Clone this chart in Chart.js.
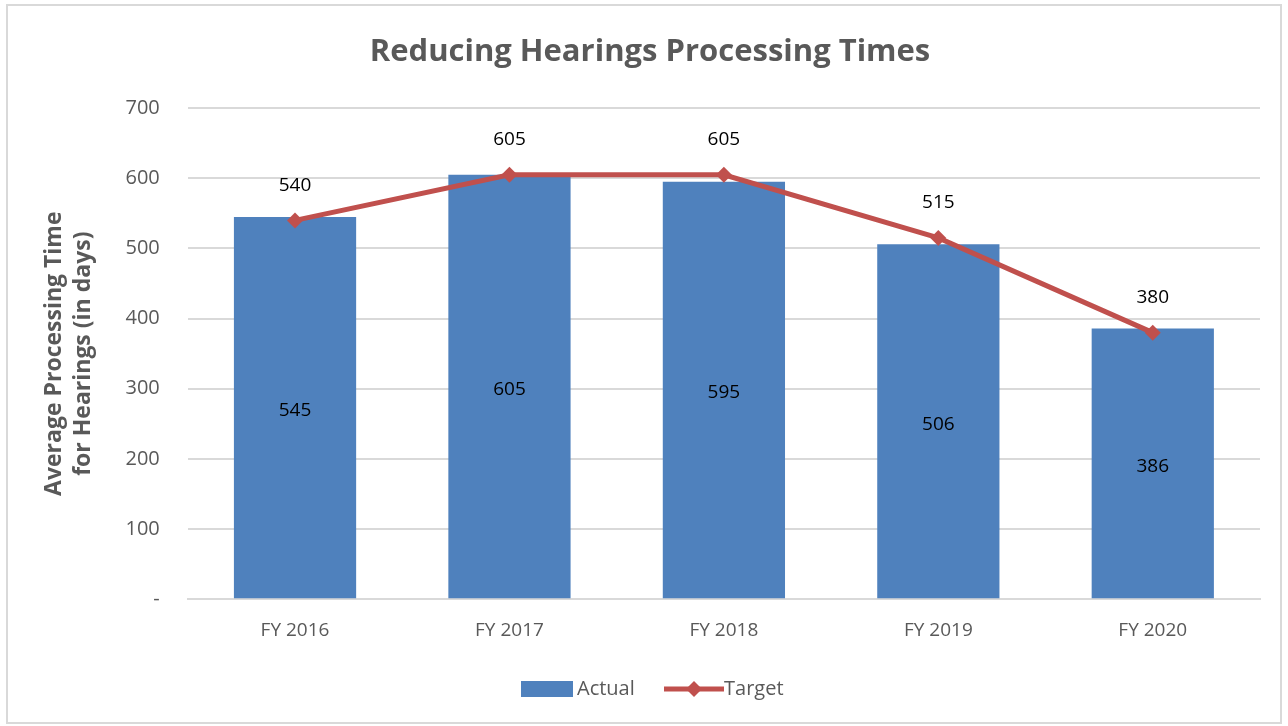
<!DOCTYPE html>
<html lang="en">
<head>
    <meta charset="UTF-8">
    <title>Reducing Hearings Processing Times</title>
    <script src="https://cdn.jsdelivr.net/npm/chart.js@4"></script>
    <style>
        html, body { margin: 0; padding: 0; background: #ffffff; }
        #wrap {
            position: absolute; left: 6px; top: 4px;
            width: 1272px; height: 716px;
            border: 2px solid #d9d9d9;
        }
    </style>
</head>
<body>
<div id="wrap"><canvas id="myChart"></canvas></div>

<script>
    var labels = ['FY 2016', 'FY 2017', 'FY 2018', 'FY 2019', 'FY 2020'];
    var actual = [545, 605, 595, 506, 386];
    var target = [540, 605, 605, 515, 380];

    var blue = '#4F81BD';
    var red = '#C0504D';
    var grey = '#595959';
    var fontName = "'Open Sans', 'Noto Sans', sans-serif";

    // value labels: in the middle of the bars, above the target points
    var valueLabels = {
        id: 'valueLabels',
        afterDatasetsDraw: function (chart) {
            var ctx = chart.ctx;
            ctx.save();
            ctx.fillStyle = '#000000';
            ctx.font = '19px ' + fontName;
            ctx.textAlign = 'center';
            ctx.textBaseline = 'middle';
            chart.getDatasetMeta(0).data.forEach(function (bar, i) {
                ctx.fillText(actual[i], bar.x, (bar.y + bar.base) / 2 + 3);
            });
            chart.getDatasetMeta(1).data.forEach(function (pt, i) {
                ctx.fillText(target[i], pt.x, pt.y - 35);
            });
            ctx.restore();
        }
    };

    // legend drawn by hand so the target entry shows a line with a diamond
    var bottomLegend = {
        id: 'bottomLegend',
        afterDraw: function (chart) {
            var ctx = chart.ctx;
            var y = chart.height - 33;
            ctx.save();
            ctx.font = '20px ' + fontName;
            ctx.textBaseline = 'middle';
            ctx.fillStyle = blue;
            ctx.fillRect(513, y - 8, 52, 16);
            ctx.fillStyle = grey;
            ctx.fillText('Actual', 569, y);

            ctx.strokeStyle = red;
            ctx.lineWidth = 5;
            ctx.beginPath();
            ctx.moveTo(656, y);
            ctx.lineTo(716, y);
            ctx.stroke();
            ctx.fillStyle = red;
            ctx.beginPath();
            ctx.moveTo(686, y - 8);
            ctx.lineTo(694, y);
            ctx.lineTo(686, y + 8);
            ctx.lineTo(678, y);
            ctx.closePath();
            ctx.fill();
            ctx.fillStyle = grey;
            ctx.fillText('Target', 716, y);
            ctx.restore();
        }
    };

    var ctx = document.getElementById('myChart').getContext('2d');
    var chart = new Chart(ctx, {
        type: 'bar',
        data: {
            labels: labels,
            datasets: [{
                type: 'bar',
                label: 'Actual',
                data: actual,
                backgroundColor: blue,
                barPercentage: 0.57,
                categoryPercentage: 1,
                order: 1
            }, {
                type: 'line',
                label: 'Target',
                data: target,
                borderColor: red,
                backgroundColor: red,
                borderWidth: 5,
                pointStyle: 'rectRot',
                pointRadius: 8,
                pointBackgroundColor: red,
                pointBorderWidth: 0,
                tension: 0,
                order: 0
            }]
        },
        options: {
            responsive: true,
            maintainAspectRatio: false,
            animation: false,
            layout: { padding: { left: 32, right: 20, top: 20, bottom: 68 } },
            plugins: {
                legend: { display: false },
                tooltip: { enabled: false },
                title: {
                    display: true,
                    text: 'Reducing Hearings Processing Times',
                    color: grey,
                    font: { family: fontName, size: 31, weight: 'bold' },
                    padding: { top: 8, bottom: 37 }
                }
            },
            scales: {
                x: {
                    grid: { display: false },
                    border: { color: '#d9d9d9', width: 2 },
                    ticks: { color: grey, font: { family: fontName, size: 19 }, padding: 12 }
                },
                y: {
                    min: 0,
                    max: 700,
                    grid: { color: '#d9d9d9', lineWidth: 2, drawTicks: false },
                    border: { display: false },
                    ticks: {
                        stepSize: 100,
                        color: grey,
                        padding: 28,
                        font: { family: fontName, size: 20 },
                        callback: function (v) { return v === 0 ? '-' : v; }
                    },
                    title: {
                        display: true,
                        text: ['Average Processing Time', 'for Hearings (in days)'],
                        color: grey,
                        font: { family: fontName, size: 23, weight: 'bold', lineHeight: 1.25 },
                        padding: 0
                    }
                }
            }
        },
        plugins: [valueLabels, bottomLegend]
    });
</script>
</body>
</html>
